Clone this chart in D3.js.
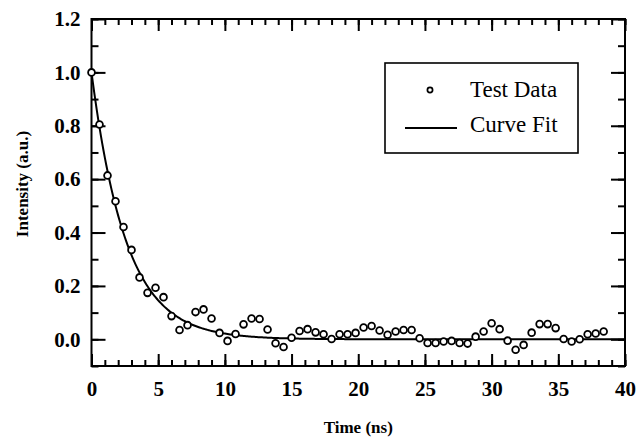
<!DOCTYPE html>
<html>
<head>
<meta charset="utf-8">
<script src="https://cdn.jsdelivr.net/npm/d3@7/dist/d3.min.js"></script>
<style>
  body { margin: 0; background: #fff; }
  svg { display: block; font-family: "Liberation Serif", "Times New Roman", serif; }
  .axis path, .axis line { stroke: #000; stroke-width: 2; }
  .axis text { font-size: 21px; font-weight: bold; fill: #000; font-family: "Liberation Serif", serif; }
</style>
</head>
<body>
<svg id="chart" width="639" height="447"></svg>
<script>
// sample spacing 0.6 ns, time = step * index
const sampleStep = 0.6;
const intensity = [
  1.000, 0.805, 0.614, 0.517, 0.421, 0.335, 0.232, 0.174, 0.193, 0.158,
  0.087, 0.035, 0.053, 0.102, 0.112, 0.078, 0.024, -0.006, 0.020, 0.056,
  0.078, 0.076, 0.037, -0.015, -0.029, 0.006, 0.031, 0.038, 0.026, 0.019,
  0.001, 0.019, 0.019, 0.024, 0.044, 0.050, 0.033, 0.017, 0.029, 0.035,
  0.035, 0.004, -0.014, -0.014, -0.008, -0.006, -0.014, -0.016, 0.010, 0.029,
  0.060, 0.038, -0.005, -0.039, -0.021, 0.025, 0.057, 0.057, 0.042, 0.001,
  -0.008, 0.000, 0.019, 0.022, 0.029
];
const times = intensity.map((v, i) => +(i * sampleStep).toFixed(2));

// exponential fit parameters
const fitAmplitude = 1.0;
const fitTau = 2.6;

const xTicks = [0, 5, 10, 15, 20, 25, 30, 35, 40];
const yTicks = [0.0, 0.2, 0.4, 0.6, 0.8, 1.0, 1.2];
const legendLabels = ['Test Data', 'Curve Fit'];

const svg = d3.select('#chart');
const plotL = 91.5, plotR = 625, plotT = 19, plotB = 366;

const x = d3.scaleLinear().domain([0, 40]).range([plotL, plotR]);
const y = d3.scaleLinear().domain([-0.1, 1.2]).range([plotB, plotT]);

/* minor ticks */
const xMinor = d3.range(0, 41, 1);
const yMinor = d3.range(-0.1, 1.21, 0.1).map(d => +d.toFixed(2));

function addAxis(axis, tx, ty) {
  const g = svg.append('g').attr('class', 'axis')
    .attr('transform', 'translate(' + tx + ',' + ty + ')')
    .call(axis);
  g.select('.domain').remove();
  return g;
}

// bottom
addAxis(d3.axisBottom(x).tickValues(xMinor).tickSize(-6).tickFormat(''), 0, plotB);
addAxis(d3.axisBottom(x).tickValues(xTicks).tickSize(-12).tickPadding(15).tickFormat(d3.format('d')), 0, plotB);
// top
addAxis(d3.axisTop(x).tickValues(xMinor).tickSize(-6).tickFormat(''), 0, plotT);
addAxis(d3.axisTop(x).tickValues(xTicks).tickSize(-12).tickFormat(''), 0, plotT);
// left
addAxis(d3.axisLeft(y).tickValues(yMinor).tickSize(-7).tickFormat(''), plotL, 0);
addAxis(d3.axisLeft(y).tickValues(yTicks).tickSize(-14).tickPadding(11).tickFormat(d3.format('.1f')), plotL, 0);
// right
addAxis(d3.axisRight(y).tickValues(yMinor).tickSize(-7).tickFormat(''), plotR, 0);
addAxis(d3.axisRight(y).tickValues(yTicks).tickSize(-14).tickFormat(''), plotR, 0);

// frame
svg.append('rect')
  .attr('x', plotL).attr('y', plotT)
  .attr('width', plotR - plotL).attr('height', plotB - plotT)
  .attr('fill', 'none').attr('stroke', '#000').attr('stroke-width', 2);

// fit curve
const fitT = d3.range(0, 40.01, 0.1);
const line = d3.line()
  .x(d => x(d))
  .y(d => y(fitAmplitude * Math.exp(-d / fitTau)));
svg.append('path')
  .datum(fitT)
  .attr('d', line)
  .attr('fill', 'none')
  .attr('stroke', '#000')
  .attr('stroke-width', 2);

// data points
svg.append('g')
  .selectAll('circle')
  .data(intensity)
  .enter()
  .append('circle')
  .attr('cx', (d, i) => x(times[i]))
  .attr('cy', d => y(d))
  .attr('r', 3.4)
  .attr('fill', '#fff')
  .attr('stroke', '#000')
  .attr('stroke-width', 1.8);

// legend
const lg = svg.append('g');
lg.append('rect')
  .attr('x', 385).attr('y', 63).attr('width', 193).attr('height', 90)
  .attr('fill', '#fff').attr('stroke', '#000').attr('stroke-width', 1.6);
lg.append('circle')
  .attr('cx', 430).attr('cy', 90).attr('r', 2.6)
  .attr('fill', '#fff').attr('stroke', '#000').attr('stroke-width', 1.7);
lg.append('line')
  .attr('x1', 405).attr('x2', 457).attr('y1', 128).attr('y2', 128)
  .attr('stroke', '#000').attr('stroke-width', 2);
lg.selectAll('text')
  .data(legendLabels)
  .enter()
  .append('text')
  .attr('x', 470)
  .attr('y', (d, i) => 97 + i * 35)
  .attr('font-size', 23)
  .text(d => d);

// axis titles
svg.append('text')
  .attr('x', (plotL + plotR) / 2)
  .attr('y', 433)
  .attr('text-anchor', 'middle')
  .attr('font-size', 17)
  .attr('font-weight', 'bold')
  .text('Time (ns)');

svg.append('text')
  .attr('transform', 'translate(28,184) rotate(-90)')
  .attr('text-anchor', 'middle')
  .attr('font-size', 17)
  .attr('font-weight', 'bold')
  .text('Intensity (a.u.)');
</script>
</body>
</html>
